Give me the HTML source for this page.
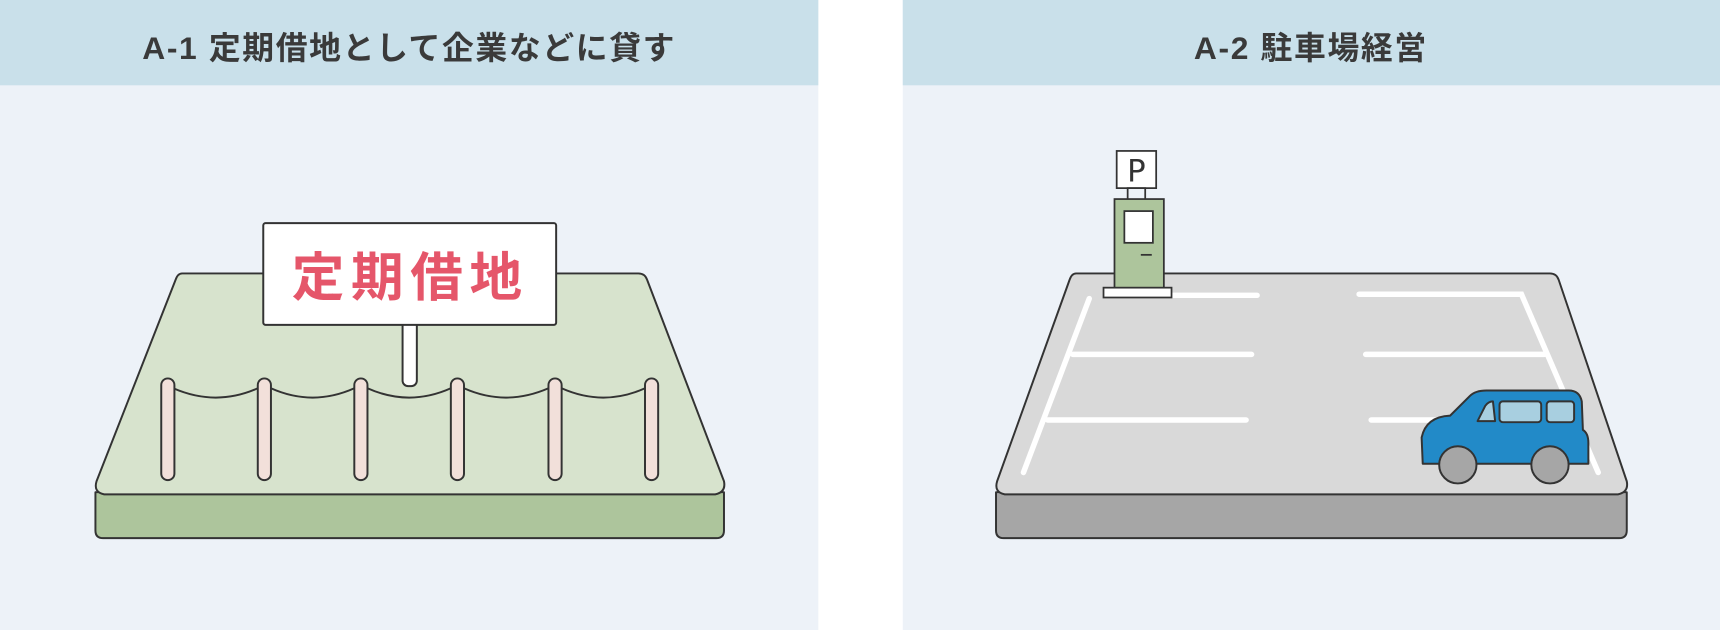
<!DOCTYPE html>
<html><head><meta charset="utf-8"><style>
html,body{margin:0;padding:0;background:#fff}
svg{display:block}
</style></head><body>
<svg width="1720" height="630" viewBox="0 0 1568 576" preserveAspectRatio="none" xmlns="http://www.w3.org/2000/svg">
<rect x="0" y="0" width="746" height="576" fill="#edf2f8"/>
<rect x="0" y="0" width="746" height="78" fill="#c9e0ea"/>
<rect x="823" y="0" width="745" height="576" fill="#edf2f8"/>
<rect x="823" y="0" width="745" height="78" fill="#c9e0ea"/>
<text x="373" y="54" text-anchor="middle" font-family="Liberation Sans, Noto Sans CJK JP, sans-serif" font-weight="bold" font-size="29" letter-spacing="1.5" fill="#3a3a3a">A-1 定期借地として企業などに貸す</text>
<text x="1195" y="54" text-anchor="middle" font-family="Liberation Sans, Noto Sans CJK JP, sans-serif" font-weight="bold" font-size="29" letter-spacing="1.5" fill="#3a3a3a">A-2 駐車場経営</text>

<g stroke="#333" stroke-width="1.8" stroke-linejoin="round">
<path d="M87 450 L87 485 Q87 492 94 492 L653 492 Q660 492 660 485 L660 450 Z" fill="#adc59c"/>
<path d="M166 250 L582 250 Q588 250 590 256 L660 440 Q662 450 652 452 L95 452 Q85 450 88 440 L160 256 Q162 250 166 250 Z" fill="#d7e3cd"/>
<rect x="367" y="290" width="13" height="63" rx="5" fill="#fff"/>
<rect x="240" y="204" width="267" height="93" rx="2" fill="#fff"/>
<g fill="none">
<path d="M158 355 Q197 372 235 355"/><path d="M247 355 Q285 372 323 355"/><path d="M335 355 Q373 372 411 355"/><path d="M423 355 Q461 372 500 355"/><path d="M512 355 Q550 372 588 355"/>
</g>
<g fill="#f2e0da">
<rect x="147" y="346" width="12" height="93" rx="6"/><rect x="235" y="346" width="12" height="93" rx="6"/><rect x="323" y="346" width="12" height="93" rx="6"/><rect x="411" y="346" width="12" height="93" rx="6"/><rect x="500" y="346" width="12" height="93" rx="6"/><rect x="588" y="346" width="12" height="93" rx="6"/>
</g>
</g>
<text x="374" y="270" text-anchor="middle" font-family="Liberation Sans, Noto Sans CJK JP, sans-serif" font-weight="bold" font-size="48" letter-spacing="6" fill="#e5566a">定期借地</text>

<g stroke="#333" stroke-width="1.8" stroke-linejoin="round">
<path d="M908 450 L908 485 Q908 492 915 492 L1476 492 Q1483 492 1483 485 L1483 450 Z" fill="#a6a6a6"/>
<path d="M981 250 L1413 250 Q1419 250 1421 256 L1483 440 Q1485 450 1475 452 L916 452 Q906 450 909 440 L975 256 Q977 250 981 250 Z" fill="#d9d9d9"/>
</g>
<g stroke="#fff" stroke-width="5" stroke-linecap="round" fill="none">
<path d="M993 273 L933 432"/>
<path d="M1062 270 L1146 270"/>
<path d="M1239 269 L1387 269 L1457 432"/>
<path d="M978 324 L1141 324"/>
<path d="M1245 324 L1408 324"/>
<path d="M955 384 L1136 384"/>
<path d="M1250 384 L1310 384"/>
</g>
<g stroke="#333" stroke-width="1.6">
<rect x="1018" y="138" width="36" height="34" fill="#fff"/>
<rect x="1028" y="172" width="16" height="11" fill="none"/>
<rect x="1016" y="182" width="45" height="82" fill="#adc59c"/>
<rect x="1025" y="193" width="26" height="29" fill="#fff"/>
<rect x="1006" y="263" width="62" height="9" fill="#fff"/>
<line x1="1040" y1="233" x2="1050" y2="233"/>
</g>
<text x="1036" y="166" text-anchor="middle" font-family="DejaVu Sans, sans-serif" font-size="28" fill="#333">P</text>
<g stroke="#333" stroke-width="1.8" stroke-linejoin="round">
<path d="M1297 424 L1296 400 Q1300 381 1322 380 L1340 362 Q1345 357 1355 357 L1430 357 Q1440 357 1442 367 L1443 393 Q1448 396 1448 405 L1448 424 Z" fill="#228ac8"/>
<path d="M1347 385 L1354 371 Q1357 367 1361 367 L1363 385 Z" fill="#a8cfe0"/>
<rect x="1367" y="367" width="38" height="19" rx="3" fill="#a8cfe0"/>
<rect x="1410" y="367" width="25" height="19" rx="3" fill="#a8cfe0"/>
<circle cx="1329" cy="425" r="17" fill="#a6a6a6"/>
<circle cx="1413" cy="425" r="17" fill="#a6a6a6"/>
</g>
</svg>
</body></html>
